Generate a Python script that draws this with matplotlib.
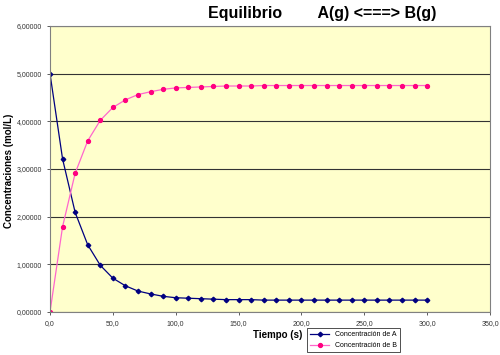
import matplotlib
matplotlib.use('Agg')
import matplotlib.pyplot as plt
from matplotlib.ticker import FuncFormatter

# tiempo (s) y concentraciones
tiempo = [0, 10, 20, 30, 40, 50, 60, 70, 80, 90, 100, 110, 120, 130, 140, 150,
          160, 170, 180, 190, 200, 210, 220, 230, 240, 250, 260, 270, 280, 290, 300]
conc_A = [5.00, 3.21, 2.09, 1.41, 0.98, 0.71, 0.55, 0.44, 0.38, 0.33, 0.30, 0.29,
          0.28, 0.27, 0.26, 0.26, 0.26, 0.25, 0.25, 0.25, 0.25, 0.25, 0.25, 0.25,
          0.25, 0.25, 0.25, 0.25, 0.25, 0.25, 0.25]
conc_B = [0.00, 1.79, 2.91, 3.59, 4.02, 4.29, 4.45, 4.56, 4.62, 4.67, 4.70, 4.71,
          4.72, 4.73, 4.74, 4.74, 4.74, 4.75, 4.75, 4.75, 4.75, 4.75, 4.75, 4.75,
          4.75, 4.75, 4.75, 4.75, 4.75, 4.75, 4.75]

plt.rcParams['font.family'] = ['Liberation Sans', 'DejaVu Sans']

fig = plt.figure(figsize=(5, 3.55), dpi=100)
ax = fig.add_axes([0.1, 0.121, 0.88, 0.806])
ax.set_facecolor('#FFFFCC')

ax.plot(tiempo, conc_A, color='#000080', lw=0.9, marker='D', ms=2.3,
        label='Concentración de A')
ax.plot(tiempo, conc_B, color='#FF66CC', lw=0.9, marker='o', ms=2.8,
        mfc='#FF0080', mec='#FF0080', label='Concentración de B')

ax.set_xlim(0, 350)
ax.set_ylim(0, 6)
ax.set_xticks(range(0, 351, 50))
ax.set_yticks(range(0, 7))
ax.xaxis.set_major_formatter(FuncFormatter(lambda v, p: ('%.1f' % v).replace('.', ',')))
ax.yaxis.set_major_formatter(FuncFormatter(lambda v, p: ('%.5f' % v).replace('.', ',')))
ax.tick_params(labelsize=5, length=2.5, width=0.6, color='#444444', labelcolor='#333333')
ax.yaxis.grid(True, color='#333333', lw=0.8)
ax.set_axisbelow(True)
for s in ax.spines.values():
    s.set_color('#808080')
    s.set_linewidth(0.8)

fig.text(0.644, 0.963, 'Equilibrio        A(g) <===> B(g)', ha='center', va='center',
         fontsize=11.5, fontweight='bold')
fig.text(0.018, 0.52, 'Concentraciones (mol/L)', rotation=90, ha='center', va='center',
         fontsize=7, fontweight='bold')
fig.text(0.555, 0.057, 'Tiempo (s)', ha='center', va='center', fontsize=7, fontweight='bold')

handles, labels = ax.get_legend_handles_labels()
leg = fig.legend(handles, labels, loc='upper left', bbox_to_anchor=(0.614, 0.075),
                 fontsize=5, frameon=True, fancybox=False, borderpad=0.4,
                 handlelength=2.8, labelspacing=0.6, borderaxespad=0)
leg.get_frame().set_edgecolor('#000000')
leg.get_frame().set_linewidth(0.6)

fig.savefig('out.png', dpi=100)
